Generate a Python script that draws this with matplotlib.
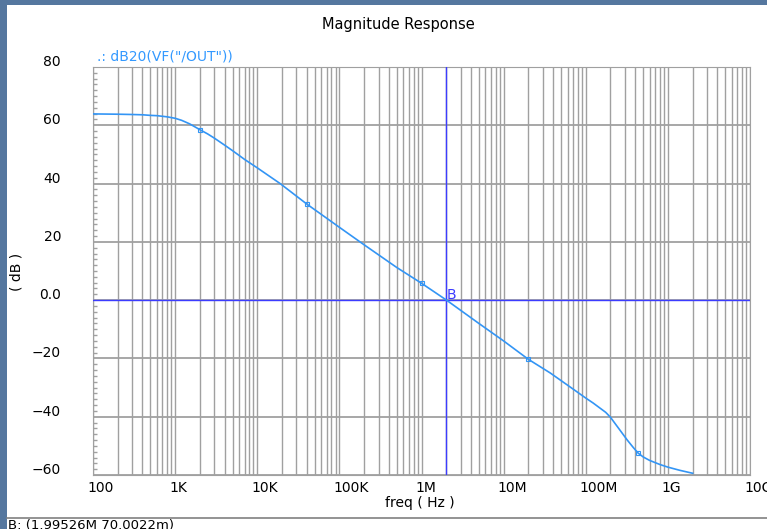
import matplotlib
matplotlib.use('Agg')
import matplotlib.pyplot as plt
import matplotlib.transforms as mtransforms
from matplotlib.lines import Line2D
from matplotlib.patches import Rectangle
from matplotlib.ticker import FixedLocator, FixedFormatter, LogLocator, MultipleLocator

# frequency response (Hz, dB)
freq = [100, 200, 300, 400, 500, 600, 800, 1e3, 1.2e3, 1.5e3, 2e3, 2.5e3, 3e3, 4e3, 5e3,
        7e3, 1e4, 1.9e4, 4e4, 1e5, 2e5, 5e5, 1e6, 2e6, 5e6, 1e7, 2e7, 3.7e7, 7e7, 1e8,
        1.23e8, 1.5e8, 1.75e8, 2e8, 2.5e8, 3.2e8, 3.8e8, 4.35e8, 5e8, 6e8, 8e8, 1e9,
        1.4e9, 2e9]
mag_db = [63.9, 63.8, 63.7, 63.6, 63.4, 63.3, 62.9, 62.4, 61.7, 60.5, 58.5, 57.0, 55.6,
          53.2, 51.3, 48.3, 45.4, 40.0, 33.0, 25.0, 19.0, 11.2, 5.8, 0.07, -8.0, -14.0,
          -20.3, -25.0, -30.5, -33.6, -35.3, -37.1, -38.5, -40.2, -43.9, -48.0, -50.6,
          -52.5, -53.8, -55.0, -56.4, -57.3, -58.4, -59.4]

# small symbols drawn on the trace
marker_freq = [2e3, 4e4, 1e6, 2e7, 4.35e8]
marker_db = [58.5, 33.0, 5.8, -20.3, -52.5]

# cursor B
cursor_freq = 1.99526e6
cursor_db = 0.0700022

x_ticks = [1e2, 1e3, 1e4, 1e5, 1e6, 1e7, 1e8, 1e9, 1e10]
x_labels = ['100', '1K', '10K', '100K', '1M', '10M', '100M', '1G', '10G']
y_ticks = [-60, -40, -20, 0, 20, 40, 60, 80]
y_labels = ['\u221260', '\u221240', '\u221220', '0.0', '20', '40', '60', '80']

W, H = 767, 529
fig = plt.figure(figsize=(W / 100, H / 100), dpi=100)
fig.patch.set_facecolor('#55779f')
fig.add_artist(Rectangle((7 / W, 0), 1 - 7 / W, 1 - 5 / H, transform=fig.transFigure,
                         facecolor='white', edgecolor='none', zorder=0))

ax = fig.add_axes([93 / W, 1 - 475 / H, (750 - 93) / W, (475 - 67) / H])
ax.set_xscale('log')
ax.set_xlim(1e2, 1e10)
ax.set_ylim(-60, 80)

grid_c = '#a0a0a0'
ax.xaxis.set_major_locator(FixedLocator(x_ticks))
ax.xaxis.set_major_formatter(FixedFormatter(x_labels))
ax.xaxis.set_minor_locator(LogLocator(base=10, subs=range(2, 10), numticks=20))
ax.yaxis.set_major_locator(FixedLocator(y_ticks))
ax.yaxis.set_major_formatter(FixedFormatter(y_labels))
ax.yaxis.set_minor_locator(MultipleLocator(2))
ax.grid(which='both', axis='x', color=grid_c, lw=1)
ax.grid(which='major', axis='y', color=grid_c, lw=1.3)
ax.tick_params(axis='x', which='both', length=0, pad=4, labelsize=10)
ax.tick_params(axis='y', which='major', length=0, pad=23, labelsize=10)
ax.tick_params(axis='y', which='minor', direction='in', length=3, color=grid_c, width=1)
for s in ax.spines.values():
    s.set_color(grid_c)

# labels start a few pixels left of their grid line, as in the original tool
shift_x = mtransforms.ScaledTranslation(-6 / 100, 0, fig.dpi_scale_trans)
for lab in ax.get_xticklabels():
    lab.set_horizontalalignment('left')
    lab.set_transform(lab.get_transform() + shift_x)
shift_y = mtransforms.ScaledTranslation(0, -2 / 100, fig.dpi_scale_trans)
for lab in ax.get_yticklabels():
    lab.set_verticalalignment('bottom')
    lab.set_transform(lab.get_transform() + shift_y)

cur_c = '#3c3cff'
ax.axvline(cursor_freq, color=cur_c, lw=1, zorder=3)
ax.axhline(cursor_db, color=cur_c, lw=1, zorder=3)
ax.text(cursor_freq * 1.02, cursor_db - 0.6, 'B', color=cur_c, fontsize=10,
        ha='left', va='bottom', zorder=4)

trace_c = '#3395f5'
ax.plot(freq, mag_db, color=trace_c, lw=1.2, zorder=5)
ax.plot(marker_freq, marker_db, ls='none', marker='s', ms=3, mfc='none',
        mec=trace_c, mew=0.8, zorder=6)

fig.text(398 / W, 1 - 24 / H, 'Magnitude Response', ha='center', va='center', fontsize=10.5)
fig.text(97 / W, 1 - 57 / H, '.: dB20(VF("/OUT"))', ha='left', va='center',
         fontsize=10, color='#3399ff')
fig.text(17 / W, 1 - 272 / H, '( dB )', rotation=90, ha='center', va='center', fontsize=10)
fig.text(420 / W, 1 - 503 / H, 'freq ( Hz )', ha='center', va='center', fontsize=10)
fig.add_artist(Line2D([7 / W, 1], [1 - 518 / H, 1 - 518 / H], transform=fig.transFigure,
                      color='#808080', lw=1.2))
fig.text(8 / W, 1 - 518.5 / H, 'B: (1.99526M 70.0022m)', ha='left', va='top', fontsize=9.5)

fig.savefig('out.png', dpi=100, facecolor=fig.get_facecolor())
